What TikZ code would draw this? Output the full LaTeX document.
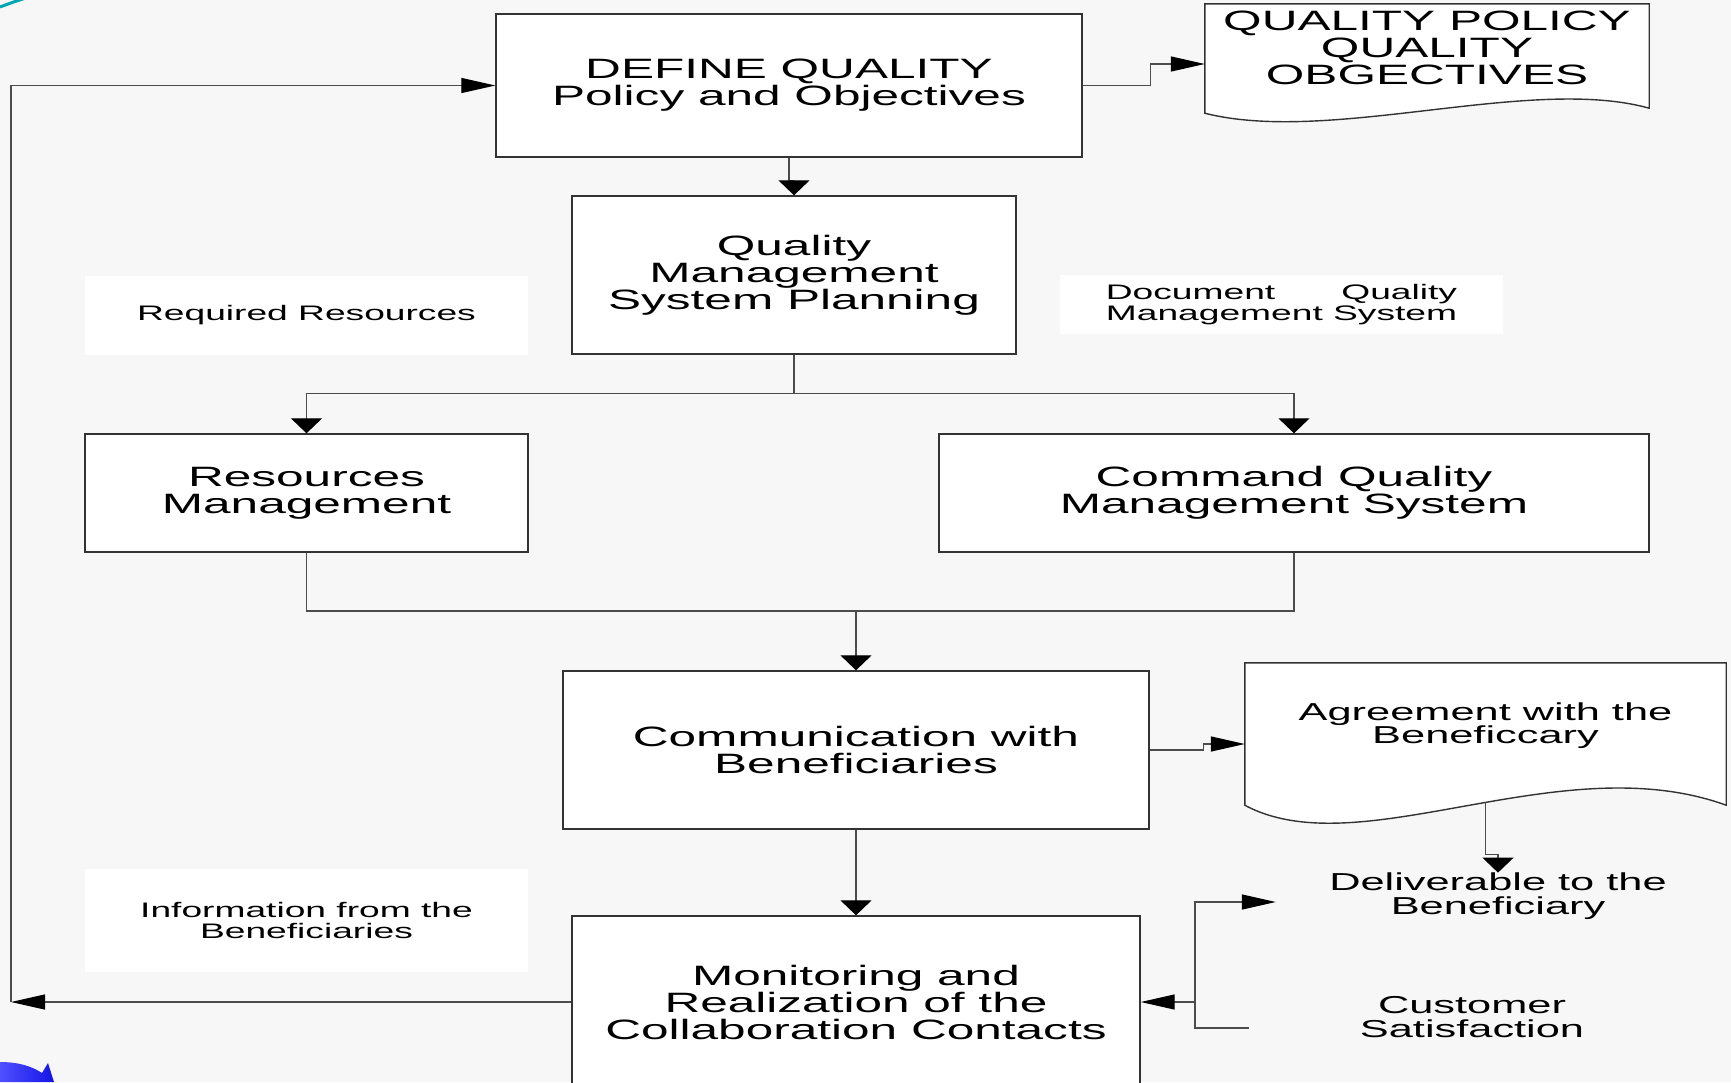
\documentclass[tikz,border=0pt]{standalone}
\usepackage{fontspec}
\setmainfont{Liberation Sans}[FakeStretch=1.77]
\usepackage{calc}
\usetikzlibrary{arrows.meta,calc}

\definecolor{pagebg}{RGB}{247,247,247}
\definecolor{tealarc}{RGB}{0,168,180}
\definecolor{bluetipA}{RGB}{80,80,255}
\definecolor{bluetipB}{RGB}{20,20,230}

\tikzset{
  bigtext/.style={font=\fontsize{28}{27}\selectfont},
  midtext/.style={font=\fontsize{24.5}{23.5}\selectfont},
  smalltext/.style={font=\fontsize{21}{21}\selectfont},
  flowbox/.style={draw=black!80, line width=1.4pt, fill=white, inner sep=0pt, align=center, bigtext},
  notebox/.style={fill=white, inner sep=0pt, align=center, smalltext},
  frame/.style={inner sep=0pt},
  plaintext/.style={inner sep=0pt, align=center},
  docline/.style={draw=black!80, line width=1.4pt, fill=white},
  wire/.style={draw=black!70, line width=1.3pt},
  harrow/.style={wire, -{Triangle[length=34pt,width=15pt,color=black]}},
  varrow/.style={wire, -{Triangle[length=15pt,width=31pt,color=black]}},
}

\begin{document}
\begin{tikzpicture}[x=1pt, y=-1pt]
  % page
  \clip (0,0) rectangle (1731,1082);
  \fill[pagebg] (0,0) rectangle (1731,1082);

  % slide decorations at the corners
  \draw[tealarc, line width=3pt] (0,7) .. controls (8,4) and (16,1) .. (26,-2);
  \shade[left color=bluetipA, right color=bluetipB]
    (0,1062) .. controls (20,1062) and (33,1067) .. (42,1073) -- (48,1063) -- (54,1082) -- (0,1082) -- cycle;

  % process boxes
  \node[flowbox, minimum width=586pt, minimum height=143pt] (def) at (789,85.5)
    {DEFINE QUALITY\\Policy and Objectives};
  \node[flowbox, minimum width=444pt, minimum height=158pt] (plan) at (794,275)
    {Quality\\Management\\System Planning};
  \node[flowbox, minimum width=443pt, minimum height=118pt] (res) at (306.5,493)
    {Resources\\Management};
  \node[flowbox, minimum width=710pt, minimum height=118pt] (cmd) at (1294,493)
    {Command Quality\\Management System};
  \node[flowbox, minimum width=586pt, minimum height=158pt] (comm) at (856,750)
    {Communication with\\Beneficiaries};
  \node[flowbox, minimum width=568pt, minimum height=172pt] (mon) at (856,1002)
    {Monitoring and\\Realization of the\\Collaboration Contacts};

  % document shapes (wavy bottom edge)
  \node[frame, minimum width=444pt, minimum height=106pt] (pol) at (1427,57) {};
  \draw[docline] ([yshift=-3pt]pol.south west) |- (pol.north east) -- ([yshift=2pt]pol.south east)
    .. controls (1530,75) and (1330,145) .. ([yshift=-3pt]pol.south west) -- cycle;
  \node[plaintext, bigtext] (poltext) at (1427,47.5) {QUALITY POLICY\\QUALITY\\OBGECTIVES};

  \node[frame, minimum width=481pt, minimum height=142pt] (agr) at (1485.5,734) {};
  \draw[docline] (agr.south west) |- (agr.north east) -- (agr.south east)
    .. controls (1560,745) and (1360,867) .. (agr.south west) -- cycle;
  \node[plaintext, midtext] (agrtext) at (1485.5,725.5) {Agreement with the\\Beneficcary};

  % free texts
  \node[plaintext, midtext, minimum width=444pt] (deliv) at (1498,896) {Deliverable to the\\Beneficiary};
  \node[plaintext, midtext, minimum width=446pt] (cust) at (1472,1017) {Customer\\Satisfaction};

  % white note panels
  \node[notebox, minimum width=443pt, minimum height=79pt] (reqres) at (306.5,315.5) {Required Resources};
  \node[notebox, minimum width=443pt, minimum height=59pt] (docqms) at (1281.5,304.5)
    {\makebox[\widthof{Management System}]{Document\hfill Quality}\\Management System};
  \node[notebox, minimum width=443pt, minimum height=103pt] (info) at (306.5,920.5)
    {Information from the\\Beneficiaries};

  % junction points
  \coordinate (merge) at (856,611);
  \coordinate (lft) at (11,1000);
  \coordinate (cs) at (1195,1000);

  % connectors
  \draw[varrow] (def.south) -- ++(0,23) -| (plan.north);
  \draw[harrow] (def.east) -- ++(68,0) |- ([yshift=-7pt]pol.west);
  \draw[varrow] (plan.south) -- ++(0,39) -| (res.north);
  \draw[varrow] (plan.south) -- ++(0,39) -| (cmd.north);
  \draw[wire] (res.south) |- (merge) -| (cmd.south);
  \draw[varrow] (merge) -- (comm.north);
  \draw[harrow] (comm.east) -- ++(54,0) |- ([yshift=-10pt]agr.west);
  \draw[varrow] ([yshift=3pt]agr.south) -- ++(0,52) -| (deliv.north);
  \draw[varrow] (comm.south) -- (mon.north);
  \draw[harrow] (mon.west) -- (mon.west -| lft);
  \draw[harrow] (mon.west -| lft) |- (def.west);
  \draw[harrow] ([yshift=-11pt]cust.west) -| (cs |- mon.east) -- (mon.east);
  \draw[harrow] (cs |- mon.east) |- ([yshift=-6pt]deliv.west);
\end{tikzpicture}
\end{document}
